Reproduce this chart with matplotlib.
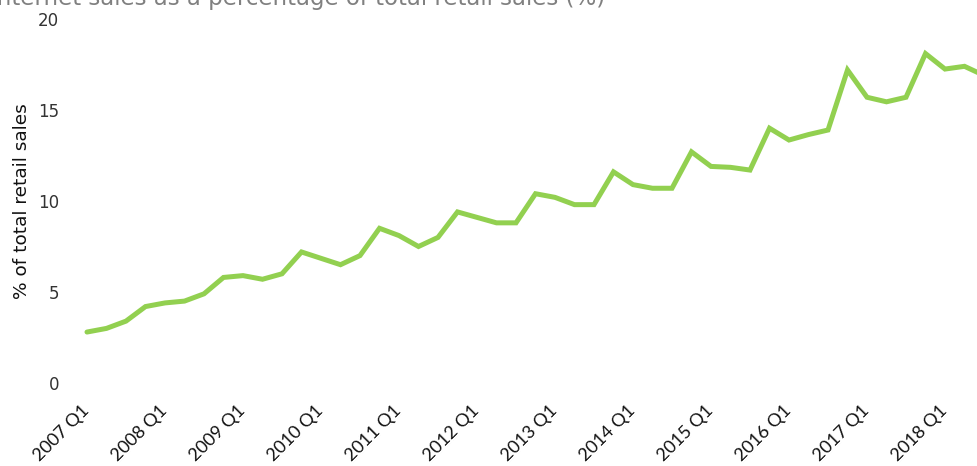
import matplotlib
matplotlib.use("Agg")
import matplotlib.pyplot as plt

# Ventes internet en % des ventes de détail, par trimestre (2007 Q1 - 2018 Q3)
quarters = [f"{y} Q{q}" for y in range(2007, 2019) for q in range(1, 5)][:47]
internet_share = [
    2.8, 3.0, 3.4, 4.2,
    4.4, 4.5, 4.9, 5.8,
    5.9, 5.7, 6.0, 7.2,
    6.85, 6.5, 7.0, 8.5,
    8.1, 7.5, 8.0, 9.4,
    9.1, 8.8, 8.8, 10.4,
    10.2, 9.8, 9.8, 11.6,
    10.9, 10.7, 10.7, 12.7,
    11.9, 11.85, 11.7, 14.0,
    13.35, 13.65, 13.9, 17.2,
    15.7, 15.45, 15.7, 18.1,
    17.25, 17.4, 16.9,
]
y_ticks = [0, 5, 10, 15, 20]
title = "Internet sales as a percentage of total retail sales (%)"
y_title = "% of total retail sales"

W, H = 978, 466
fig = plt.figure(figsize=(W / 100, H / 100), dpi=100)
ax = fig.add_axes([70 / W, (H - 383) / H, 1 - 70 / W, (383 - 19) / H])

x = list(range(len(quarters)))
ax.plot(x, internet_share, color="#92d050", linewidth=3.6,
        solid_joinstyle="miter", solid_capstyle="round")

# une étiquette par an (Q1)
step = 19.5
ax.set_xlim(-(87 - 70) / step, (978 - 87) / step)
ax.set_ylim(0, 20)
ax.set_xticks(x[::4])
ax.set_xticklabels(quarters[::4], rotation=45, ha="right", va="center",
                   rotation_mode="anchor", fontsize=13, family="Lato",
                   color="#111111")
ax.set_yticks(y_ticks)
ax.set_yticklabels([str(v) for v in y_ticks], fontsize=12,
                   family="DejaVu Sans", color="#333333")
ax.tick_params(axis="x", length=0, pad=18)
ax.tick_params(axis="y", length=0, pad=8)
ax.set_ylabel(y_title, fontsize=13.3, family="DejaVu Sans", color="#111111",
              labelpad=5)
for s in ax.spines.values():
    s.set_visible(False)

fig.text(-10 / W, 1 - 5 / H, title, fontsize=16.5, color="#808080",
         family="DejaVu Sans", va="baseline", ha="left")

fig.savefig("out.png", dpi=100)
